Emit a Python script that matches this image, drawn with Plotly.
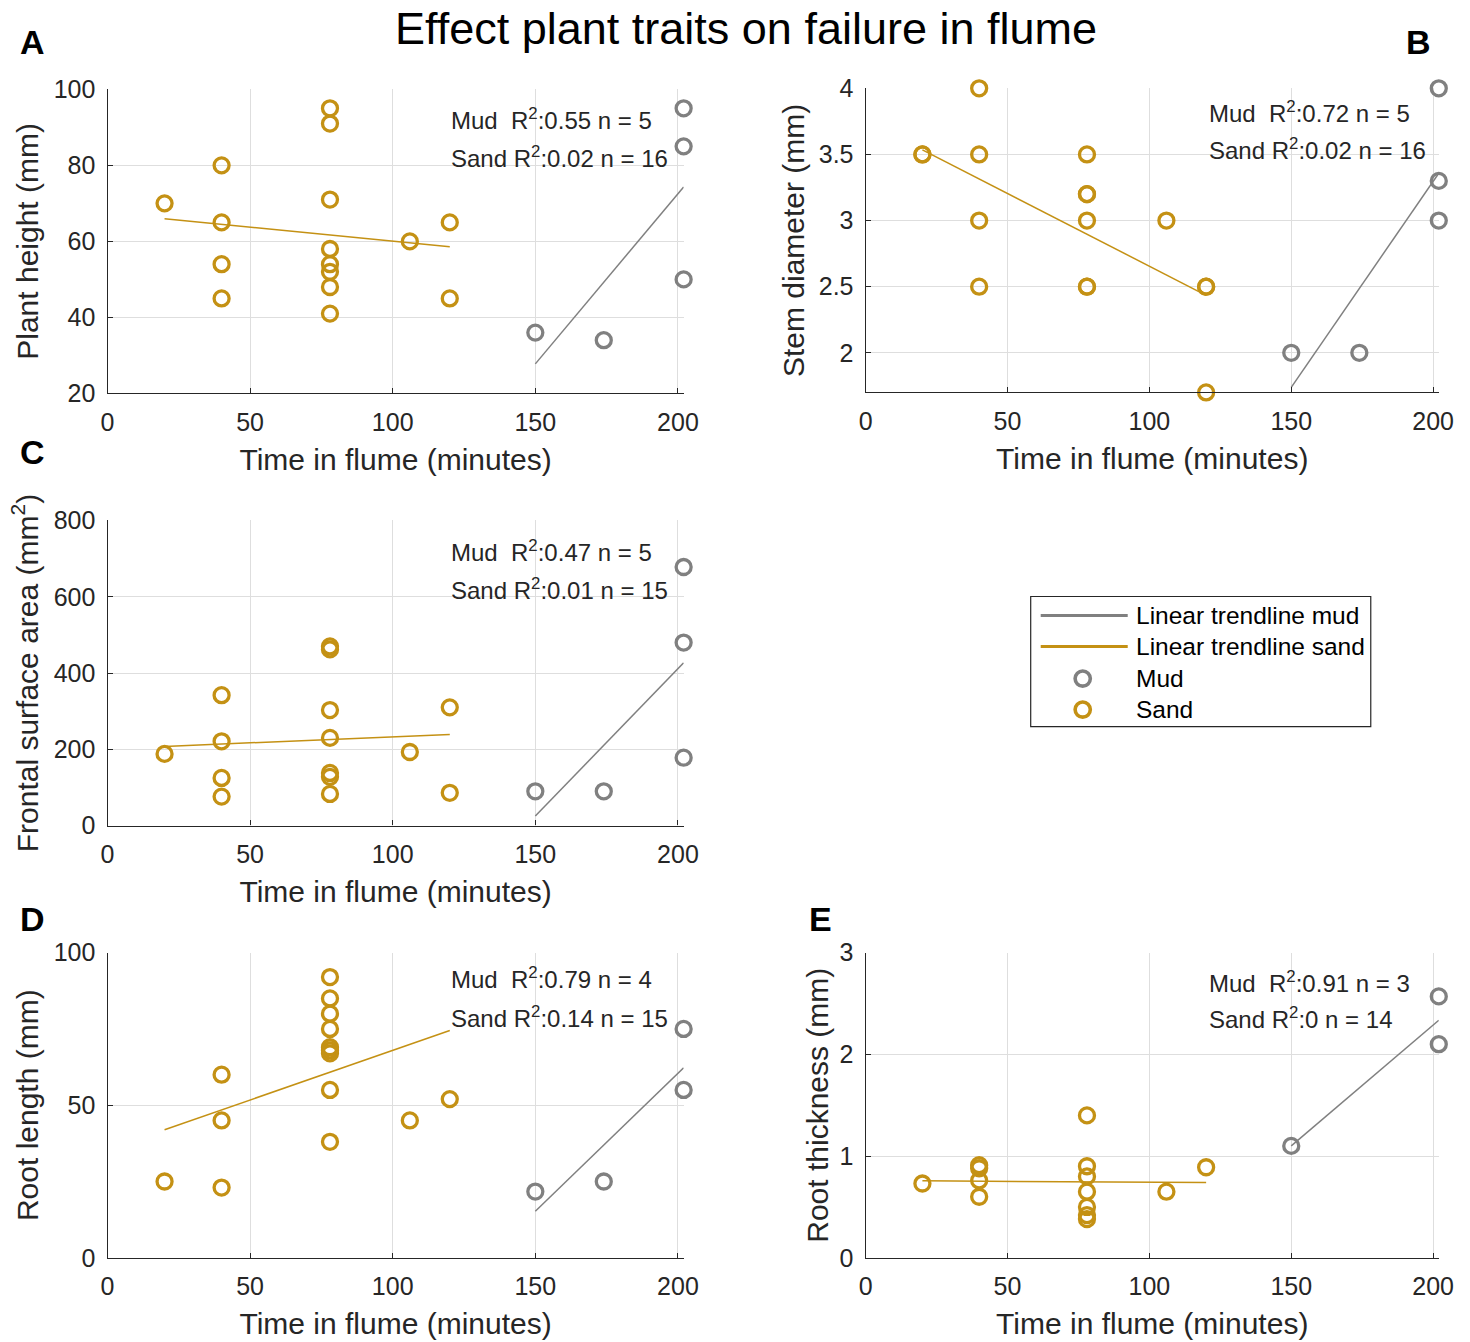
import numpy as np
import plotly.graph_objects as go

# Screen position of a figure pixel was measured as  screen = S * fig + C.
# Positions below are given in screen pixels and mapped back to figure pixels.
SX, CX = 0.985, 6.5
SY, CY = 0.979, 13.7
W, H = 1486, 1357
GOLD = "rgb(196,145,20)"
GRAY = "rgb(128,128,128)"
DARK = "rgb(38,38,38)"
FONT = "Liberation Sans, Arial, sans-serif"

# ---------------- data ----------------
# Panel A: plant height (mm)
sand_time_A = [20, 40, 40, 40, 40, 78, 78, 78, 78, 78, 78, 78, 78, 106, 120, 120]
sand_val_A = [70, 80, 65, 54, 45, 95, 91, 71, 58, 54, 52, 48, 41, 60, 65, 45]
mud_time_A = [150, 174, 202, 202, 202]
mud_val_A = [36, 34, 95, 85, 50]

# Panel B: stem diameter (mm)
sand_time_B = [20, 20, 40, 40, 40, 40, 78, 78, 78, 78, 78, 78, 106, 120, 120, 120]
sand_val_B = [3.5, 3.5, 4.0, 3.5, 3.0, 2.5, 3.5, 3.2, 3.2, 3.0, 2.5, 2.5, 3.0, 2.5, 2.5, 1.7]
mud_time_B = [150, 174, 202, 202, 202]
mud_val_B = [2.0, 2.0, 4.0, 3.3, 3.0]

# Panel C: frontal surface area (mm^2)
sand_time_C = [20, 40, 40, 40, 40, 78, 78, 78, 78, 78, 78, 78, 106, 120, 120]
sand_val_C = [188, 342, 221, 125, 76, 470, 462, 303, 230, 138, 128, 83, 193, 310, 86]
mud_time_C = [150, 174, 202, 202, 202]
mud_val_C = [90, 90, 678, 480, 178]

# Panel D: root length (mm)
sand_time_D = [20, 40, 40, 40, 78, 78, 78, 78, 78, 78, 78, 78, 78, 106, 120]
sand_val_D = [25, 60, 45, 23, 92, 85, 80, 75, 69, 68, 67, 55, 38, 45, 52]
mud_time_D = [150, 174, 202, 202]
mud_val_D = [21.7, 25, 75, 55]

# Panel E: root thickness (mm)
sand_time_E = [20, 40, 40, 40, 40, 78, 78, 78, 78, 78, 78, 78, 106, 120]
sand_val_E = [0.73, 0.91, 0.88, 0.76, 0.6, 1.4, 0.9, 0.8, 0.65, 0.5, 0.42, 0.38, 0.65, 0.89]
mud_time_E = [150, 202, 202]
mud_val_E = [1.1, 2.57, 2.1]

y_titles = ["Plant height (mm)", "Stem diameter (mm)",
            "Frontal surface area (mm<sup>2</sup>)", "Root length (mm)",
            "Root thickness (mm)"]
x_title = "Time in flume (minutes)"
panel_letters = ["A", "B", "C", "D", "E"]
stats_mud = ["Mud&nbsp;&nbsp;R<sup>2</sup>:0.55 n = 5", "Mud&nbsp;&nbsp;R<sup>2</sup>:0.72 n = 5",
             "Mud&nbsp;&nbsp;R<sup>2</sup>:0.47 n = 5", "Mud&nbsp;&nbsp;R<sup>2</sup>:0.79 n = 4",
             "Mud&nbsp;&nbsp;R<sup>2</sup>:0.91 n = 3"]
stats_sand = ["Sand R<sup>2</sup>:0.02 n = 16", "Sand R<sup>2</sup>:0.02 n = 16",
              "Sand R<sup>2</sup>:0.01 n = 15", "Sand R<sup>2</sup>:0.14 n = 15",
              "Sand R<sup>2</sup>:0 n = 14"]
legend_labels = ["Linear trendline mud", "Linear trendline sand", "Mud", "Sand"]
x_ticks = [0, 50, 100, 150, 200]
y_ticks = [[20, 40, 60, 80, 100], [2, 2.5, 3, 3.5, 4], [0, 200, 400, 600, 800],
           [0, 50, 100], [0, 1, 2, 3]]
y_ranges = [[20, 100], [1.7, 4], [0, 800], [0, 100], [0, 3]]
x_range = [0, 202]

data = [
    (sand_time_A, sand_val_A, mud_time_A, mud_val_A),
    (sand_time_B, sand_val_B, mud_time_B, mud_val_B),
    (sand_time_C, sand_val_C, mud_time_C, mud_val_C),
    (sand_time_D, sand_val_D, mud_time_D, mud_val_D),
    (sand_time_E, sand_val_E, mud_time_E, mud_val_E),
]

# ---------------- layout geometry (screen pixels) ----------------
boxes = [  # x0, x1, y0(top), y1(bottom)
    (107, 683, 89, 393),
    (865, 1438, 88, 392),
    (107, 683, 520, 825),
    (107, 683, 952, 1257),
    (865, 1438, 952, 1257),
]
ytitle_standoff = [6, 5, 6, 6, 2]
letter_pos = [(32, 42), (1418, 42), (32, 452), (32, 918), (820, 918)]
stat_pos = [(448, 119, 157), (1206, 112, 149), (448, 550, 588), (448, 977, 1016), (1206, 981, 1017)]
legend_box = (1030, 1370, 596, 726)
legend_rows = [615, 646, 678, 709]


def px(x):
    return ((x - CX) / SX) / W


def py(y):
    return 1 - ((y - CY) / SY) / H


fig = go.Figure()


def fit_line(x, y):
    x = np.asarray(x, float)
    y = np.asarray(y, float)
    k, b = np.polyfit(x, y, 1)
    xs = np.array([x.min(), x.max()])
    return xs, k * xs + b


for i, (st, sv, mt, mv) in enumerate(data):
    n = "" if i == 0 else str(i + 1)
    xa, ya = "x" + n, "y" + n
    mx, my = fit_line(mt, mv)
    sx, sy = fit_line(st, sv)
    fig.add_trace(go.Scatter(x=mx, y=my, mode="lines", xaxis=xa, yaxis=ya,
                             line=dict(color=GRAY, width=1.5),
                             name="Linear trendline mud", showlegend=False, hoverinfo="skip"))
    fig.add_trace(go.Scatter(x=sx, y=sy, mode="lines", xaxis=xa, yaxis=ya,
                             line=dict(color=GOLD, width=1.5),
                             name="Linear trendline sand", showlegend=False, hoverinfo="skip"))
    fig.add_trace(go.Scatter(x=mt, y=mv, mode="markers", xaxis=xa, yaxis=ya,
                             marker=dict(symbol="circle-open", size=15, color=GRAY,
                                         line=dict(width=3.3, color=GRAY)),
                             cliponaxis=False, name="Mud", showlegend=False))
    fig.add_trace(go.Scatter(x=st, y=sv, mode="markers", xaxis=xa, yaxis=ya,
                             marker=dict(symbol="circle-open", size=15, color=GOLD,
                                         line=dict(width=3.3, color=GOLD)),
                             cliponaxis=False, name="Sand", showlegend=False))

    x0, x1, y0, y1 = boxes[i]
    common = dict(showgrid=True, gridcolor="rgb(222,222,222)", gridwidth=1,
                  zeroline=False, showline=True, linecolor=DARK, linewidth=1.3,
                  ticks="inside", ticklen=5, tickwidth=1, tickcolor=DARK,
                  tickfont=dict(family=FONT, size=25, color=DARK), mirror=False)
    fig.layout["xaxis" + n] = dict(
        domain=[px(x0), px(x1)], anchor=ya, range=x_range, tickvals=x_ticks,
        title=dict(text=x_title, font=dict(family=FONT, size=30, color=DARK), standoff=14),
        ticklabelstandoff=6, **common)
    fig.layout["yaxis" + n] = dict(
        domain=[py(y1), py(y0)], anchor=xa, range=y_ranges[i], tickvals=y_ticks[i],
        title=dict(text=y_titles[i], font=dict(family=FONT, size=30, color=DARK),
                   standoff=ytitle_standoff[i]),
        ticklabelstandoff=6, **common)

    lx, ly = letter_pos[i]
    fig.add_annotation(text="<b>%s</b>" % panel_letters[i], x=px(lx), y=py(ly),
                       xref="paper", yref="paper", showarrow=False,
                       font=dict(family=FONT, size=34, color="black"),
                       xanchor="center", yanchor="middle")
    sx0, sy1, sy2 = stat_pos[i]
    fig.add_annotation(text=stats_mud[i], x=px(sx0), y=py(sy1), xref="paper", yref="paper",
                       showarrow=False, xanchor="left", yanchor="middle",
                       font=dict(family=FONT, size=24, color=DARK))
    fig.add_annotation(text=stats_sand[i], x=px(sx0), y=py(sy2), xref="paper", yref="paper",
                       showarrow=False, xanchor="left", yanchor="middle",
                       font=dict(family=FONT, size=24, color=DARK))

fig.add_annotation(text="Effect plant traits on failure in flume", x=px(745), y=py(28),
                   xref="paper", yref="paper", showarrow=False, xanchor="center",
                   yanchor="middle", font=dict(family=FONT, size=45, color="black"))

# ---------------- legend (box, samples, labels) ----------------
lb = legend_box
fig.add_shape(type="rect", xref="paper", yref="paper",
              x0=px(lb[0]), x1=px(lb[1]), y0=py(lb[3]), y1=py(lb[2]),
              line=dict(color=DARK, width=1.2), fillcolor="white", layer="above")
sample_colors = [GRAY, GOLD, GRAY, GOLD]
for k, (lab, row, col) in enumerate(zip(legend_labels, legend_rows, sample_colors)):
    if k < 2:
        fig.add_shape(type="line", xref="paper", yref="paper",
                      x0=px(1040), x1=px(1127), y0=py(row), y1=py(row),
                      line=dict(color=col, width=3), layer="above")
    else:
        r = 7.6
        fig.add_shape(type="circle", xref="paper", yref="paper",
                      x0=px(1082 - r), x1=px(1082 + r), y0=py(row + r), y1=py(row - r),
                      line=dict(color=col, width=3.6), layer="above")
    fig.add_annotation(text=lab, x=px(1133), y=py(row), xref="paper", yref="paper",
                       showarrow=False, xanchor="left", yanchor="middle",
                       font=dict(family=FONT, size=24.5, color="black"))

fig.update_layout(
    width=W, height=H, margin=dict(l=0, r=0, t=0, b=0),
    paper_bgcolor="white", plot_bgcolor="white",
    font=dict(family=FONT, color=DARK),
    showlegend=False,
)

fig.write_html("out.html")
